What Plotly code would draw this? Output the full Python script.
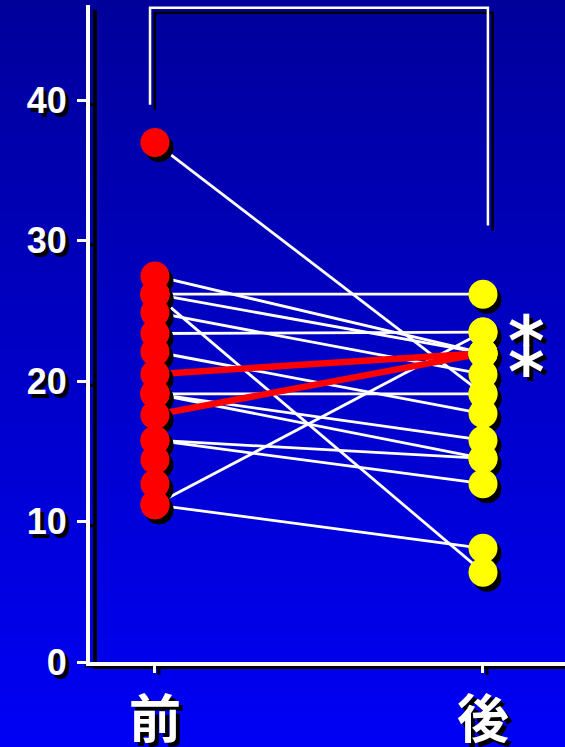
import plotly.graph_objects as go

# ---------------- data ----------------
categories = ['前', '後']
before = [37.0, 27.5, 26.2, 26.2, 26.2, 24.9, 23.4, 22.1, 20.5, 19.1, 19.1, 19.1,
          17.6, 15.8, 15.8, 11.2, 11.2, 14.4, 12.7]
after = [19.1, 22.0, 26.2, 22.0, 6.4, 20.5, 23.5, 17.7, 22.0, 19.1, 15.8, 14.5,
         22.0, 14.5, 12.7, 23.5, 8.1, None, None]
highlight = [False, False, False, False, False, False, False, False, True, False,
             False, False, True, False, False, False, False, False, False]
y_ticks = [0, 10, 20, 30, 40]
sig_label = ['*', '*']
bracket_levels = [39.7, 46.6, 31.1]   # left foot, top, right foot

# ---------------- layout geometry ----------------
W, H = 565, 747
ML, MR, MT, MB = 90, 0, 5, 85
XR = [-0.198, 1.25]
YR = [0, 46.8]
pw, ph = W - ML - MR, H - MT - MB
xpx = pw / (XR[1] - XR[0])
ypx = ph / (YR[1] - YR[0])
SHX, SHY = 4 / xpx, 5 / ypx          # shadow offset in data units

def ppx(px):  # figure px -> paper x
    return (px - ML) / pw

def ppy(py):  # figure px (from top) -> paper y
    return (H - MB - py) / ph

shadow_css = '4px 4px 0px black'
xs = list(range(len(categories)))

fig = go.Figure()

# connecting lines
wx, wy, rx, ry = [], [], [], []
for b, a, h in zip(before, after, highlight):
    if b is None or a is None:
        continue
    if h:
        rx += [xs[0], xs[1], None]; ry += [b, a, None]
    else:
        wx += [xs[0], xs[1], None]; wy += [b, a, None]
fig.add_trace(go.Scatter(x=wx, y=wy, mode='lines', line=dict(color='white', width=2.8),
                         hoverinfo='skip', showlegend=False))
fig.add_trace(go.Scatter(x=rx, y=ry, mode='lines', line=dict(color='#ff0000', width=6.5),
                         hoverinfo='skip', showlegend=False))

# dots with shadows
bvals = [b for b in before if b is not None]
avals = [a for a in after if a is not None]
msize = 29
fig.add_trace(go.Scatter(x=[xs[0] + SHX] * len(bvals), y=[v - SHY for v in bvals], mode='markers',
                         marker=dict(color='black', size=msize, line=dict(width=0)),
                         hoverinfo='skip', showlegend=False))
fig.add_trace(go.Scatter(x=[xs[1] + SHX] * len(avals), y=[v - SHY for v in avals], mode='markers',
                         marker=dict(color='black', size=msize, line=dict(width=0)),
                         hoverinfo='skip', showlegend=False))
fig.add_trace(go.Scatter(x=[xs[0]] * len(bvals), y=bvals, mode='markers',
                         marker=dict(color='#ff0000', size=msize, line=dict(width=0)),
                         name=categories[0], showlegend=False))
fig.add_trace(go.Scatter(x=[xs[1]] * len(avals), y=avals, mode='markers',
                         marker=dict(color='#ffff00', size=msize, line=dict(width=0)),
                         name=categories[1], showlegend=False))

shapes = []
# gradient background
N = 60
for i in range(N):
    t = i / (N - 1)
    b = int(round(155 + (245 - 155) * t))
    shapes.append(dict(type='rect', xref='paper', yref='paper', layer='below',
                       x0=ppx(0), x1=ppx(W), y0=ppy(H * (i + 1) / N + 1), y1=ppy(H * i / N),
                       fillcolor=f'rgb(0,0,{b})', line=dict(width=0)))
# axis shadows
shapes.append(dict(type='line', xref='paper', yref='paper', layer='below',
                   x0=ppx(ML + 5), x1=ppx(ML + 5), y0=ppy(MT + 5), y1=ppy(H - MB + 7),
                   line=dict(color='black', width=4)))
shapes.append(dict(type='line', xref='paper', yref='paper', layer='below',
                   x0=ppx(ML + 3), x1=ppx(W), y0=ppy(H - MB + 5), y1=ppy(H - MB + 5),
                   line=dict(color='black', width=4)))
for v in y_ticks:
    py = H - MB - (v - YR[0]) * ypx + 4
    shapes.append(dict(type='line', xref='paper', yref='paper', layer='below',
                       x0=ppx(ML - 5), x1=ppx(ML + 3), y0=ppy(py), y1=ppy(py),
                       line=dict(color='black', width=3)))
for xv in xs:
    px = ML + (xv - XR[0]) * xpx + 4
    shapes.append(dict(type='line', xref='paper', yref='paper', layer='below',
                       x0=ppx(px), x1=ppx(px), y0=ppy(H - MB + 3), y1=ppy(H - MB + 13),
                       line=dict(color='black', width=3)))

# significance bracket (shadow then white)
bl, bt, br = bracket_levels
bx0, bx1 = xs[0] - 0.015, xs[1] + 0.015
for dx, dy, col in [(SHX * 1.2, -SHY, 'black'), (0, 0, 'white')]:
    shapes.append(dict(type='path', xref='x', yref='y', layer='above',
                       path=f'M {bx0+dx} {bl+dy} L {bx0+dx} {bt+dy} L {bx1+dx} {bt+dy} L {bx1+dx} {br+dy}',
                       line=dict(color=col, width=2.5)))

annotations = []
sig_x = xs[1] + 0.134
for k, s in enumerate(sig_label):
    annotations.append(dict(x=sig_x, y=22.85 - 2.2 * k, xref='x', yref='y', text=s, showarrow=False,
                            xanchor='center', yanchor='middle',
                            font=dict(family='DejaVu Sans', size=70, color='white', weight='bold',
                                      shadow=shadow_css)))

fig.update_layout(
    width=W, height=H,
    margin=dict(l=ML, r=MR, t=MT, b=MB, autoexpand=False),
    paper_bgcolor='#0000c0', plot_bgcolor='rgba(0,0,0,0)',
    shapes=shapes, annotations=annotations, showlegend=False,
)
fig.update_xaxes(range=XR, tickvals=xs, ticktext=categories, showgrid=False, zeroline=False,
                 automargin=False,
                 showline=True, linecolor='white', linewidth=4,
                 ticks='outside', ticklen=7, tickwidth=3, tickcolor='white',
                 ticklabelstandoff=3,
                 tickfont=dict(family='Noto Sans CJK JP', size=52, color='white', weight='bold',
                               shadow=shadow_css))
fig.update_yaxes(range=YR, tickvals=y_ticks, showgrid=False, zeroline=False,
                 automargin=False,
                 showline=True, linecolor='white', linewidth=4,
                 ticks='outside', ticklen=9, tickwidth=3, tickcolor='white',
                 ticklabelstandoff=3,
                 tickfont=dict(family='Liberation Sans', size=36, color='white', weight='bold',
                               shadow=shadow_css))

fig.write_html('out.html', config={'displayModeBar': False},
               post_script="document.body.style.margin='0';document.body.style.overflow='hidden';")
